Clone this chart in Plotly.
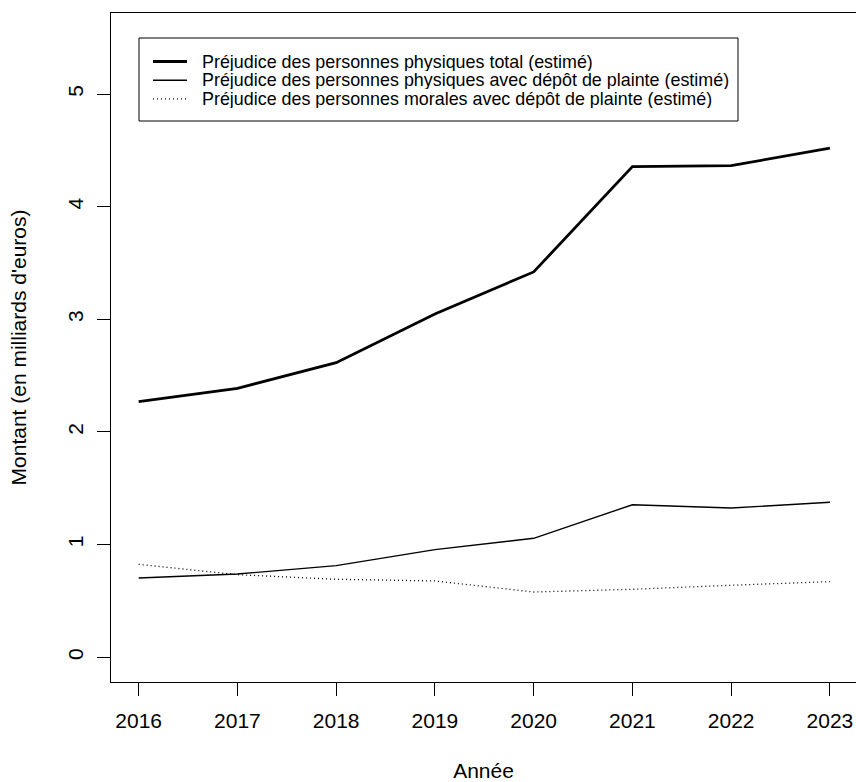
import plotly.graph_objects as go

# Années et montants estimés (en milliards d'euros)
annees = [2016, 2017, 2018, 2019, 2020, 2021, 2022, 2023]
physiques_total = [2.269, 2.388, 2.615, 3.048, 3.421, 4.356, 4.365, 4.520]
physiques_plainte = [0.703, 0.739, 0.813, 0.955, 1.056, 1.354, 1.325, 1.376]
morales_plainte = [0.825, 0.733, 0.692, 0.677, 0.579, 0.603, 0.639, 0.671]

noms = [
    "Préjudice des personnes physiques total (estimé)",
    "Préjudice des personnes physiques avec dépôt de plainte (estimé)",
    "Préjudice des personnes morales avec dépôt de plainte (estimé)",
]
styles = [
    dict(width=2.8, dash="solid"),
    dict(width=1.4, dash="solid"),
    dict(width=1.3, dash="1px,3px"),
]
series = [physiques_total, physiques_plainte, morales_plainte]

FONT = "Liberation Sans, Arial, sans-serif"
W, H = 856, 782
ML, MR, MT, MB = 111, 0, 13, 100
pw = W - ML - MR
ph = H - MT - MB

fig = go.Figure()
for nom, vals, st in zip(noms, series, styles):
    fig.add_trace(go.Scatter(
        x=annees, y=vals, mode="lines", name=nom,
        line=dict(color="black", width=st["width"], dash=st["dash"]),
        showlegend=False,
    ))

# Légende encadrée (positions en pixels converties en fraction de la zone de tracé)
shapes = [dict(
    type="rect", xref="paper", yref="paper",
    x0=(139 - ML) / pw, x1=(738 - ML) / pw,
    y0=1 - (121 - MT) / ph, y1=1 - (38 - MT) / ph,
    line=dict(color="black", width=1), fillcolor="white", layer="above",
)]
annotations = []
rows = [61.5, 80.2, 98.9]
for nom, st, ry in zip(noms, styles, rows):
    yy = 1 - (ry - MT) / ph
    shapes.append(dict(
        type="line", xref="paper", yref="paper",
        x0=(153 - ML) / pw, x1=(187 - ML) / pw, y0=yy, y1=yy,
        line=dict(color="black", width=st["width"], dash=st["dash"]),
        layer="above",
    ))
    annotations.append(dict(
        xref="paper", yref="paper", x=(201 - ML) / pw, y=yy,
        xanchor="left", yanchor="middle", text=nom, showarrow=False,
        height=18, borderpad=0, valign="middle",
        font=dict(family=FONT, size=17.9, color="black"),
    ))

fig.update_layout(
    width=W, height=H,
    margin=dict(l=ML, r=MR, t=MT, b=MB),
    paper_bgcolor="white", plot_bgcolor="white",
    font=dict(family=FONT, size=22, color="black"),
    shapes=shapes, annotations=annotations,
    showlegend=False,
)
fig.update_xaxes(
    range=[2015.72, 2023.264], tickmode="array", tickvals=annees,
    ticktext=[str(a) for a in annees],
    showgrid=False, zeroline=False,
    showline=True, mirror=True, linecolor="black", linewidth=1,
    ticks="outside", ticklen=13, tickwidth=1, tickcolor="black",
    tickfont=dict(family=FONT, size=21), ticklabelstandoff=7,
    title=dict(text="Année", font=dict(family=FONT, size=21), standoff=34),
)
fig.update_yaxes(
    range=[-0.22, 5.72], tickmode="array", tickvals=[0, 1, 2, 3, 4, 5],
    showgrid=False, zeroline=False,
    showline=True, mirror=False, linecolor="black", linewidth=1,
    ticks="outside", ticklen=13, tickwidth=1, tickcolor="black",
    tickangle=-90, tickfont=dict(family=FONT, size=21), ticklabelstandoff=6,
    title=dict(text="Montant (en milliards d'euros)", font=dict(family=FONT, size=21), standoff=31),
)

fig.write_html("out.html")
